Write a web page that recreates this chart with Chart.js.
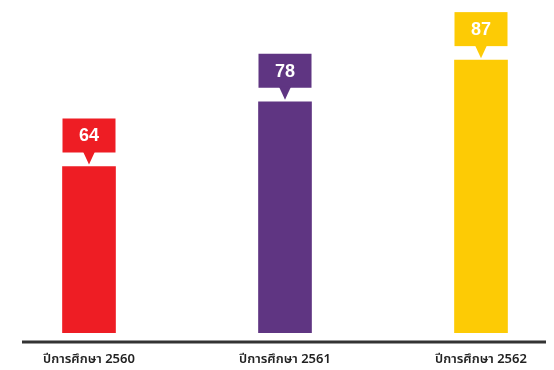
<!DOCTYPE html>
<html>
<head>
<meta charset="utf-8">
<script src="https://cdn.jsdelivr.net/npm/chart.js@4"></script>
<style>
  html, body { margin: 0; padding: 0; background: #fff; }
  #wrap { width: 554px; height: 370px; }
</style>
</head>
<body>
<div id="wrap"><canvas id="myChart" width="554" height="370"></canvas></div>
<script>
var labels = ["ปีการศึกษา 2560", "ปีการศึกษา 2561", "ปีการศึกษา 2562"];
var values = [64, 78, 87];
var barColors = ["#ee1d24", "#5f3582", "#fdcb05"];

// callout box with a small pointer above every bar
const calloutPlugin = {
  id: "callout",
  afterDatasetsDraw(chart) {
    const ctx = chart.ctx;
    const meta = chart.getDatasetMeta(0);
    meta.data.forEach((bar, i) => {
      const w = bar.width;
      const left = bar.x - w / 2;
      const boxBottom = bar.y - 14;
      const boxTop = bar.y - 48;
      ctx.save();
      ctx.fillStyle = barColors[i];
      ctx.fillRect(left, boxTop, w, boxBottom - boxTop);
      ctx.beginPath();
      ctx.moveTo(bar.x - 6, boxBottom - 1);
      ctx.lineTo(bar.x + 6, boxBottom - 1);
      ctx.lineTo(bar.x, bar.y - 2);
      ctx.closePath();
      ctx.fill();
      ctx.fillStyle = "#fff";
      ctx.font = "bold 18px 'Liberation Sans', Arial, sans-serif";
      ctx.textAlign = "center";
      ctx.textBaseline = "middle";
      ctx.fillText(values[i], bar.x, (boxTop + boxBottom) / 2 + 1);
      ctx.restore();
    });
  }
};

// base line under the bars
const baseLinePlugin = {
  id: "baseLine",
  afterDatasetsDraw(chart) {
    const ctx = chart.ctx;
    const y = chart.chartArea.bottom + 9;
    ctx.save();
    ctx.strokeStyle = "#333333";
    ctx.lineWidth = 3;
    ctx.beginPath();
    ctx.moveTo(22, y);
    ctx.lineTo(546, y);
    ctx.stroke();
    ctx.restore();
  }
};

new Chart(document.getElementById("myChart"), {
  type: "bar",
  data: {
    labels: labels,
    datasets: [{
      data: values,
      backgroundColor: barColors,
      barThickness: 53,
      clip: { left: false, right: false, top: false, bottom: 0 }
    }]
  },
  options: {
    responsive: false,
    animation: false,
    layout: { padding: { left: 89, right: 73, top: 0, bottom: 0 } },
    plugins: { legend: { display: false }, tooltip: { enabled: false } },
    scales: {
      x: {
        offset: false,
        grid: { display: false, drawTicks: false },
        border: { display: false },
        afterFit: (scale) => { scale.height = 37; },
        ticks: {
          padding: 20,
          maxRotation: 0,
          color: "#222",
          font: { size: 13, weight: "600", family: "'Noto Sans Thai', 'Noto Sans', 'DejaVu Sans', sans-serif" }
        }
      },
      y: {
        display: false,
        min: 28,
        max: 100
      }
    }
  },
  plugins: [calloutPlugin, baseLinePlugin]
});
</script>
</body>
</html>
